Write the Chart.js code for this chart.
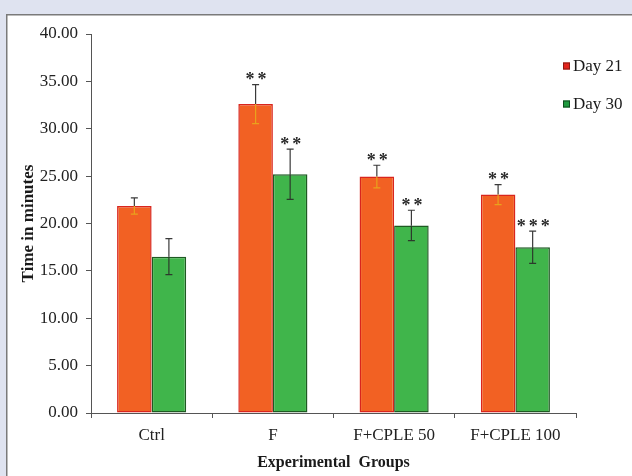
<!DOCTYPE html>
<html>
<head>
<meta charset="utf-8">
<script src="https://cdn.jsdelivr.net/npm/chart.js@4/dist/chart.umd.min.js"></script>
<style>
  html, body { margin: 0; padding: 0; background: #dfe3f0; }
  #wrap { width: 632px; height: 476px; position: relative; }
</style>
</head>
<body>
<div id="wrap"><canvas id="c" width="632" height="476"></canvas></div>
<script>
const categories = ['Ctrl', 'F', 'F+CPLE 50', 'F+CPLE 100'];
const seriesNames = ['Day 21', 'Day 30'];
const day21 = [21.85, 32.6, 24.95, 23.05];
const day21Err = [0.85, 2.05, 1.2, 1.05];
const day30 = [16.5, 25.2, 19.8, 17.5];
const day30Err = [1.9, 2.65, 1.6, 1.7];
const day21Stars = ['', '**', '**', '**'];
const day30Stars = ['', '**', '**', '***'];
const yTicks = [0, 5, 10, 15, 20, 25, 30, 35, 40];

const SERIF = '"Liberation Serif", "Times New Roman", serif';

const backgroundPlugin = {
  id: 'panelBg',
  beforeDraw(chart) {
    const ctx = chart.ctx;
    ctx.save();
    ctx.fillStyle = '#dfe3f0';
    ctx.fillRect(0, 0, chart.width, chart.height);
    ctx.fillStyle = '#ffffff';
    ctx.fillRect(6, 14, chart.width - 6, chart.height - 14);
    ctx.strokeStyle = '#7a7a7a';
    ctx.lineWidth = 1.5;
    ctx.beginPath();
    ctx.moveTo(6.75, chart.height);
    ctx.lineTo(6.75, 14.75);
    ctx.lineTo(chart.width, 14.75);
    ctx.stroke();
    ctx.restore();
  }
};

const errorBarPlugin = {
  id: 'errorBars',
  afterDatasetsDraw(chart) {
    const ctx = chart.ctx;
    const yScale = chart.scales.y;
    ctx.save();
    chart.data.datasets.forEach((ds, i) => {
      const meta = chart.getDatasetMeta(i);
      meta.data.forEach((el, j) => {
        const v = ds.data[j];
        const e = ds.errors[j];
        const x = el.x;
        const yTop = yScale.getPixelForValue(v + e);
        const yBot = yScale.getPixelForValue(v - e);
        const yBar = yScale.getPixelForValue(v);
        ctx.lineWidth = 1.2;
        ctx.strokeStyle = '#3a3a3a';
        ctx.beginPath();
        ctx.moveTo(x, yTop); ctx.lineTo(x, yBar);
        ctx.moveTo(x - 3.5, yTop); ctx.lineTo(x + 3.5, yTop);
        ctx.stroke();
        ctx.strokeStyle = ds.errInnerColor;
        ctx.beginPath();
        ctx.moveTo(x, yBar); ctx.lineTo(x, yBot);
        ctx.moveTo(x - 3.5, yBot); ctx.lineTo(x + 3.5, yBot);
        ctx.stroke();
        const s = ds.stars[j];
        if (s) {
          ctx.fillStyle = '#2a2a2a';
          ctx.font = 'bold 18px ' + SERIF;
          ctx.textAlign = 'center';
          ctx.textBaseline = 'alphabetic';
          ctx.letterSpacing = '3px';
          ctx.fillText(s, x + 2, yTop + 0.5);
          ctx.letterSpacing = '0px';
        }
      });
    });
    ctx.restore();
  }
};

const legendPlugin = {
  id: 'customLegend',
  afterDraw(chart) {
    const ctx = chart.ctx;
    ctx.save();
    const ys = [66, 104];
    chart.data.datasets.forEach((ds, i) => {
      const y = ys[i];
      ctx.fillStyle = ds.legendColor;
      ctx.fillRect(563, y - 3.5, 7, 7);
      ctx.strokeStyle = ds.legendBorder;
      ctx.lineWidth = 1;
      ctx.strokeRect(563.5, y - 3, 6, 6);
      ctx.fillStyle = '#1a1a1a';
      ctx.font = '17px ' + SERIF;
      ctx.textAlign = 'left';
      ctx.textBaseline = 'middle';
      ctx.fillText(ds.label, 573, y + 1);
    });
    ctx.restore();
  }
};

new Chart(document.getElementById('c'), {
  type: 'bar',
  data: {
    labels: categories,
    datasets: [
      {
        label: seriesNames[0],
        data: day21,
        errors: day21Err,
        stars: day21Stars,
        backgroundColor: '#f26123',
        borderColor: '#d9251d',
        borderWidth: 1.5,
        borderSkipped: false,
        errInnerColor: '#e9a21c',
        legendColor: '#e3241d',
        legendBorder: '#8a1a14'
      },
      {
        label: seriesNames[1],
        data: day30,
        errors: day30Err,
        stars: day30Stars,
        backgroundColor: '#40b54b',
        borderColor: '#1e5a22',
        borderWidth: 1.5,
        borderSkipped: false,
        errInnerColor: '#2c3a2c',
        legendColor: '#1e9a3e',
        legendBorder: '#0e4a1e'
      }
    ]
  },
  options: {
    responsive: false,
    animation: false,
    devicePixelRatio: 1,
    layout: { padding: { left: 0, right: 56, top: 34, bottom: 0 } },
    datasets: { bar: { barPercentage: 1.0, categoryPercentage: 0.57 } },
    plugins: {
      legend: { display: false },
      tooltip: { enabled: false },
      title: { display: false }
    },
    scales: {
      x: {
        offset: true,
        grid: {
          display: true, offset: true, drawOnChartArea: false,
          drawTicks: true, tickLength: 5, color: '#555555', lineWidth: 1
        },
        border: { display: true, color: '#555555', width: 1 },
        ticks: { color: '#222222', padding: 7, font: { family: SERIF, size: 17 } },
        title: {
          display: true, text: 'Experimental  Groups', color: '#1a1a1a',
          font: { family: SERIF, size: 16, weight: 'bold' },
          padding: { top: 0, bottom: 4 }
        },
        afterFit(scale) { scale.height = 63; }
      },
      y: {
        min: 0, max: 40,
        afterBuildTicks(scale) { scale.ticks = yTicks.map(v => ({ value: v })); },
        grid: {
          display: true, drawOnChartArea: false, drawTicks: true,
          tickLength: 5, color: '#555555', lineWidth: 1
        },
        border: { display: true, color: '#555555', width: 1 },
        ticks: {
          color: '#222222', padding: 8, font: { family: SERIF, size: 17 },
          callback: v => Number(v).toFixed(2)
        },
        title: {
          display: true, text: 'Time in minutes', color: '#1a1a1a',
          font: { family: SERIF, size: 17, weight: 'bold' },
          padding: { top: 18, bottom: 0 }
        },
        afterFit(scale) { scale.width = 91; }
      }
    }
  },
  plugins: [backgroundPlugin, errorBarPlugin, legendPlugin]
});
</script>
</body>
</html>
